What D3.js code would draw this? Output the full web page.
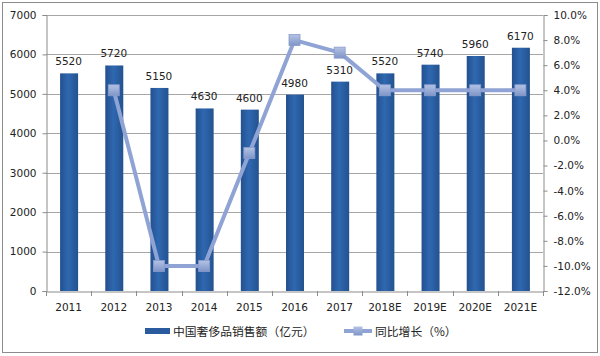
<!DOCTYPE html>
<html><head><meta charset="utf-8">
<script src="https://cdn.jsdelivr.net/npm/d3@7"></script>
<style>body{margin:0;background:#fff}svg{display:block}</style>
</head><body>
<svg id="c" width="600" height="356"></svg>
<script>
const categories = ["2011","2012","2013","2014","2015","2016","2017","2018E","2019E","2020E","2021E"];
const sales = [5520,5720,5150,4630,4600,4980,5310,5520,5740,5960,6170];
const growth = [null,4,-10,-10,-1,8,7,4,4,4,4];
const leftTicks = [0,1000,2000,3000,4000,5000,6000,7000];
const rightTicks = [-12,-10,-8,-6,-4,-2,0,2,4,6,8,10];
const seriesNames = ["中国奢侈品销售额（亿元）","同比增长（%）"];

const svg = d3.select("#c");
const font = "'DejaVu Sans', Verdana, sans-serif";
const m = {l:46, r:543, t:15, b:291};

const defs = svg.append("defs");
const bg = defs.append("linearGradient").attr("id","barg").attr("x1",0).attr("x2",1).attr("y1",0).attr("y2",0);
bg.append("stop").attr("offset","0%").attr("stop-color","#23508f");
bg.append("stop").attr("offset","45%").attr("stop-color","#2f68b0");
bg.append("stop").attr("offset","100%").attr("stop-color","#23528f");
const mg = defs.append("linearGradient").attr("id","mkg").attr("x1",0).attr("x2",0).attr("y1",0).attr("y2",1);
mg.append("stop").attr("offset","0%").attr("stop-color","#b4c3e4");
mg.append("stop").attr("offset","100%").attr("stop-color","#7f95c8");

svg.append("rect").attr("x",2.5).attr("y",2.5).attr("width",595).attr("height",350)
  .attr("fill","#fff").attr("stroke","#8c8c8c").attr("stroke-width",1);

const x = d3.scaleBand().domain(categories).range([m.l,m.r]);
const y = d3.scaleLinear().domain([0,7000]).range([m.b,m.t]);
const y2 = d3.scaleLinear().domain([-12,10]).range([m.b,m.t]);

// gridlines
svg.append("g").selectAll("line").data(leftTicks.filter(d=>d>0)).join("line")
  .attr("x1",m.l).attr("x2",m.r).attr("y1",d=>Math.round(y(d))+0.5).attr("y2",d=>Math.round(y(d))+0.5)
  .attr("stroke","#a6a6a6").attr("stroke-width",1);

// left axis
const ga = svg.append("g").attr("transform",`translate(${m.l+0.5},0)`)
  .call(d3.axisLeft(y).tickValues(leftTicks).tickSize(4).tickPadding(6).tickFormat(d3.format("d")));
// right axis
const gr = svg.append("g").attr("transform",`translate(${m.r+0.5},0)`)
  .call(d3.axisRight(y2).tickValues(rightTicks).tickSize(4).tickPadding(6).tickFormat(d=>d.toFixed(1)+"%"));
// bottom axis
const gb = svg.append("g").attr("transform",`translate(0,${m.b+0.5})`)
  .call(d3.axisBottom(x).tickSize(0).tickPadding(12));
[ga,gr,gb].forEach(g=>{
  g.select(".domain").attr("stroke","#8c8c8c");
  g.selectAll(".tick line").attr("stroke","#8c8c8c");
  g.selectAll("text").attr("font-family",font).attr("font-size",10.5).attr("fill","#222");
});
// category boundary ticks
const bounds = categories.map(c=>x(c)).concat([m.r]);
svg.append("g").selectAll("line").data(bounds).join("line")
  .attr("x1",d=>Math.round(d)+0.5).attr("x2",d=>Math.round(d)+0.5)
  .attr("y1",m.b).attr("y2",m.b+5).attr("stroke","#8c8c8c");

// bars
const bw = 18;
svg.append("g").selectAll("rect").data(sales).join("rect")
  .attr("x",(d,i)=>x(categories[i])+x.bandwidth()/2-bw/2+0.5)
  .attr("y",d=>y(d)).attr("width",bw).attr("height",d=>m.b-y(d))
  .attr("fill","url(#barg)");

// line
const pts = growth.map((g,i)=>({c:categories[i],g})).filter(p=>p.g!==null);
const line = d3.line().x(p=>x(p.c)+x.bandwidth()/2).y(p=>y2(p.g));
svg.append("path").datum(pts).attr("d",line).attr("fill","none")
  .attr("stroke","#8fa3d4").attr("stroke-width",4).attr("stroke-linejoin","round");
svg.append("g").selectAll("rect").data(pts).join("rect")
  .attr("x",p=>x(p.c)+x.bandwidth()/2-5.5).attr("y",p=>y2(p.g)-5.5)
  .attr("width",11).attr("height",11).attr("fill","url(#mkg)").attr("stroke","#8a9ccc").attr("stroke-width",0.8);

// data labels
svg.append("g").selectAll("text").data(sales).join("text")
  .attr("x",(d,i)=>x(categories[i])+x.bandwidth()/2)
  .attr("y",d=>y(d)-8).attr("text-anchor","middle")
  .attr("font-family",font).attr("font-size",10.5).attr("fill","#222").text(d=>d);

// legend
const lg = svg.append("g");
lg.append("rect").attr("x",145).attr("y",328).attr("width",25).attr("height",6).attr("fill","#2a5b9e");
lg.append("text").attr("x",173).attr("y",335.5).attr("font-family","'Noto Sans CJK SC', sans-serif")
  .attr("font-size",11.8).attr("fill","#222").text(seriesNames[0]);
lg.append("line").attr("x1",344).attr("x2",372).attr("y1",331).attr("y2",331)
  .attr("stroke","#8fa3d4").attr("stroke-width",4);
lg.append("rect").attr("x",353.5).attr("y",326.5).attr("width",9).attr("height",9).attr("fill","url(#mkg)");
lg.append("text").attr("x",375).attr("y",335.5).attr("font-family","'Noto Sans CJK SC', sans-serif")
  .attr("font-size",11.8).attr("fill","#222").text(seriesNames[1]);
</script>
</body></html>
